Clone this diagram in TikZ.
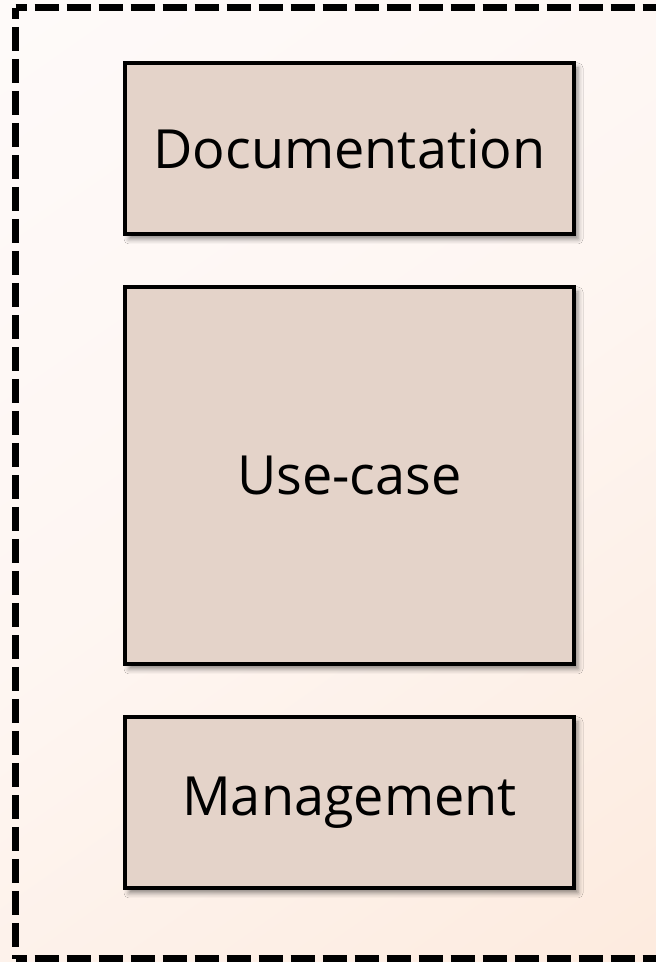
\documentclass[tikz,border=0pt]{standalone}
\usepackage{fontspec}
\setmainfont{Open Sans}
\usetikzlibrary{shadows.blur}
\definecolor{boxfill}{HTML}{E4D3C9}
\definecolor{bglight}{HTML}{FEFAF9}
\definecolor{bgpeach}{HTML}{FDEBDF}
\tikzset{
  stage/.style={draw=black, line width=3.5pt, fill=boxfill,
    minimum width=449pt, inner sep=0pt,
    font=\fontsize{54}{62}\selectfont,
    blur shadow={shadow xshift=4pt, shadow yshift=-5pt, shadow blur radius=5pt, shadow opacity=45}},
  frame/.style={line width=7pt, dash pattern=on 24pt off 8pt, dash phase=13pt}
}
\begin{document}
\begin{tikzpicture}[x=1pt,y=1pt]
  \useasboundingbox (0,0) rectangle (656,962);
  % soft diagonal background
  \shade[shading=axis, top color=bglight, bottom color=bgpeach, middle color=bglight!70!bgpeach, shading angle=35]
    (-150,-150) rectangle (806,1112);
  % dashed frame, running past the right and bottom edges
  \coordinate (tl) at (15.5,954);
  \coordinate (tr) at (700,954);
  \coordinate (bl) at (15.5,3);
  \coordinate (br) at (700,3);
  \draw[frame] (tl) -- (tr);
  \draw[frame] (tl) -- (bl);
  \draw[frame] (bl) -- (br);
  % the three boxes
  \node[stage, minimum height=171pt] (doc) at (349.5,813.5) {Documentation};
  \node[stage, minimum height=377pt] (use) at (349.5,486.5) {Use-case};
  \node[stage, minimum height=171pt] (mgmt) at (349.5,159.5) {Management};
\end{tikzpicture}
\end{document}
